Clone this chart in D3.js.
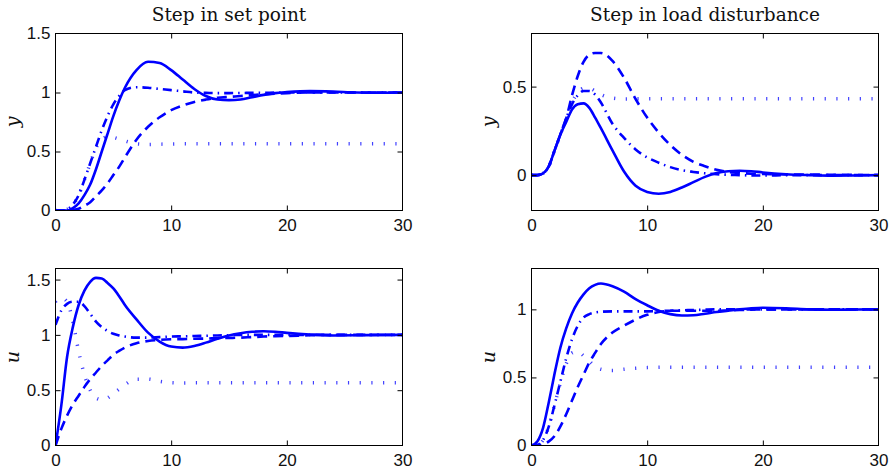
<!DOCTYPE html>
<html>
<head>
<meta charset="utf-8">
<script src="https://cdn.jsdelivr.net/npm/d3@7"></script>
<style>
	html, body { margin: 0; padding: 0; background: #fff; }
	svg { display: block; }
	.tick text { font-family: "Liberation Sans", Arial, sans-serif; font-size: 17px; fill: #111; }
	.tick line { stroke: #000; }
	.frame { fill: none; stroke: #000; stroke-width: 1; }
	.title { font-family: "DejaVu Serif", serif; font-size: 18.5px; fill: #111; }
	.ylabel { font-family: "DejaVu Serif", serif; font-style: italic; font-size: 19px; fill: #111; }
	.curve { fill: none; stroke: #0000ff; stroke-width: 2.6; }
	.curve.dashed { stroke-dasharray: 10 6; }
	.curve.dashdot { stroke-dasharray: 9 5 1.5 5; }
	.curve.dotted { stroke-width: 3.5; stroke-dasharray: 1.2 10.5; opacity: 0.75; }
</style>
</head>
<body>
<svg id="chart" width="893" height="475"></svg>
<script>
// time grid shared by all series
var times = [0, 0.5, 1, 1.5, 2, 2.5, 3, 3.5, 4, 4.5, 5, 5.5, 6, 7, 8, 9, 10, 11, 12, 13, 14, 15, 16, 17, 18, 19, 20, 22, 24, 26, 28, 30];

// step in set point, output y
var spYSolid   = [0, 0, 0, 0.02, 0.06, 0.13, 0.22, 0.35, 0.5, 0.65, 0.8, 0.93, 1.04, 1.19, 1.26, 1.25, 1.19, 1.11, 1.03, 0.97, 0.94, 0.935, 0.94, 0.96, 0.98, 0.995, 1.003, 1.012, 1.008, 1.0, 0.998, 1.0];
var spYDashed  = [0, 0, 0, 0.005, 0.015, 0.04, 0.07, 0.12, 0.17, 0.23, 0.3, 0.37, 0.45, 0.6, 0.71, 0.79, 0.85, 0.89, 0.92, 0.94, 0.955, 0.963, 0.97, 0.978, 0.985, 0.99, 0.995, 1.0, 1.0, 1.0, 1.0, 1.0];
var spYDashdot = [0, 0, 0.01, 0.05, 0.13, 0.26, 0.4, 0.54, 0.68, 0.8, 0.9, 0.97, 1.02, 1.045, 1.04, 1.03, 1.02, 1.01, 1.0, 0.997, 0.995, 0.995, 0.996, 0.997, 0.998, 0.999, 1.0, 1.0, 1.0, 1.0, 1.0, 1.0];
var spYDotted  = [0, 0, 0.01, 0.05, 0.13, 0.26, 0.4, 0.53, 0.6, 0.625, 0.62, 0.605, 0.59, 0.565, 0.56, 0.562, 0.564, 0.565, 0.565, 0.565, 0.565, 0.565, 0.565, 0.565, 0.565, 0.565, 0.565, 0.565, 0.565, 0.565, 0.565, 0.565];

// step in load disturbance, output y
var ldYSolid   = [0, 0, 0.01, 0.05, 0.14, 0.23, 0.3, 0.37, 0.4, 0.405, 0.38, 0.325, 0.265, 0.14, 0.02, -0.06, -0.095, -0.105, -0.095, -0.07, -0.04, -0.01, 0.012, 0.022, 0.025, 0.022, 0.015, 0.005, 0, -0.003, -0.002, 0];
var ldYDashed  = [0, 0, 0.01, 0.05, 0.14, 0.23, 0.32, 0.45, 0.56, 0.64, 0.68, 0.69, 0.69, 0.645, 0.55, 0.43, 0.325, 0.24, 0.17, 0.115, 0.075, 0.05, 0.03, 0.018, 0.012, 0.008, 0.006, 0.004, 0.003, 0.002, 0.001, 0];
var ldYDashdot = [0, 0, 0.01, 0.05, 0.14, 0.23, 0.32, 0.4, 0.45, 0.475, 0.475, 0.455, 0.41, 0.29, 0.21, 0.145, 0.1, 0.07, 0.045, 0.028, 0.018, 0.01, 0.005, 0.002, 0, -0.002, -0.002, -0.001, 0, 0, 0, 0];
var ldYDotted  = [0, 0, 0.01, 0.05, 0.14, 0.23, 0.32, 0.41, 0.465, 0.49, 0.49, 0.475, 0.455, 0.435, 0.43, 0.431, 0.432, 0.432, 0.432, 0.432, 0.432, 0.432, 0.432, 0.432, 0.432, 0.432, 0.432, 0.432, 0.432, 0.432, 0.432, 0.432];

// step in set point, control u
var spUSolid   = [0, 0.36, 0.8, 1.07, 1.27, 1.4, 1.48, 1.515, 1.51, 1.47, 1.42, 1.35, 1.27, 1.14, 1.02, 0.94, 0.895, 0.885, 0.9, 0.93, 0.965, 0.995, 1.015, 1.028, 1.033, 1.028, 1.018, 1.003, 0.995, 0.996, 0.999, 1.0];
var spUDashed  = [0, 0.15, 0.27, 0.37, 0.45, 0.53, 0.6, 0.66, 0.72, 0.77, 0.82, 0.855, 0.885, 0.925, 0.945, 0.955, 0.96, 0.962, 0.965, 0.967, 0.97, 0.972, 0.975, 0.98, 0.985, 0.988, 0.99, 0.997, 1.0, 1.0, 1.0, 1.0];
var spUDashdot = [1.09, 1.22, 1.28, 1.3, 1.3, 1.26, 1.19, 1.12, 1.07, 1.035, 1.01, 0.995, 0.985, 0.975, 0.975, 0.98, 0.985, 0.987, 0.99, 0.992, 0.995, 0.997, 1.0, 1.0, 1.0, 1.0, 1.0, 1.0, 1.0, 1.0, 1.0, 1.0];
var spUDotted  = [1.3, 1.335, 1.3, 1.12, 0.85, 0.64, 0.5, 0.43, 0.415, 0.43, 0.47, 0.51, 0.55, 0.6, 0.6, 0.58, 0.568, 0.565, 0.567, 0.567, 0.567, 0.567, 0.567, 0.567, 0.567, 0.567, 0.567, 0.567, 0.567, 0.567, 0.567, 0.567];

// step in load disturbance, control u
var ldUSolid   = [0, 0.03, 0.13, 0.32, 0.53, 0.72, 0.86, 0.97, 1.05, 1.11, 1.155, 1.18, 1.19, 1.17, 1.13, 1.075, 1.03, 0.99, 0.965, 0.955, 0.957, 0.968, 0.98, 0.99, 1.0, 1.008, 1.012, 1.008, 1.0, 0.997, 0.999, 1.0];
var ldUDashed  = [0, 0, 0.01, 0.03, 0.07, 0.14, 0.23, 0.33, 0.43, 0.52, 0.61, 0.68, 0.745, 0.83, 0.88, 0.925, 0.96, 0.98, 0.99, 0.99, 0.99, 0.99, 0.99, 0.992, 0.995, 0.998, 1.0, 1.0, 1.0, 1.0, 1.0, 1.0];
var ldUDashdot = [0, 0.005, 0.04, 0.14, 0.3, 0.47, 0.64, 0.78, 0.88, 0.94, 0.965, 0.977, 0.982, 0.985, 0.985, 0.985, 0.985, 0.987, 0.99, 0.993, 0.995, 0.998, 1.0, 1.0, 1.0, 1.0, 1.0, 1.0, 1.0, 1.0, 1.0, 1.0];
var ldUDotted  = [0, 0.005, 0.04, 0.14, 0.3, 0.46, 0.6, 0.68, 0.69, 0.66, 0.62, 0.58, 0.56, 0.55, 0.56, 0.567, 0.572, 0.574, 0.575, 0.575, 0.575, 0.575, 0.575, 0.575, 0.575, 0.575, 0.575, 0.575, 0.575, 0.575, 0.575, 0.575];

// tick values
var xTicks = [0, 10, 20, 30];
var spYTicks = [0, 0.5, 1, 1.5];
var ldYTicks = [0, 0.5];
var spUTicks = [0, 0.5, 1, 1.5];
var ldUTicks = [0, 0.5, 1];

window.app = window.app || {};

window.app.panels = (function() {

	'use strict';

	var svg = d3.select("#chart");

	var panelWidth = 347,
		panelHeight = 177;

	/**
	* draw one subplot
	* @param {object} cfg position, domain, ticks, labels and series
	* @returns {undefined}
	*/
	var drawPanel = function(cfg, idx) {
		var g = svg.append("g").attr("transform", "translate(" + cfg.left + "," + cfg.top + ")");

		var xScale = d3.scaleLinear().domain([0, 30]).range([0, panelWidth]);
		var yScale = d3.scaleLinear().domain(cfg.yDomain).range([panelHeight, 0]);

		// clip for the curves
		g.append("clipPath").attr("id", "clip" + idx)
			.append("rect").attr("width", panelWidth).attr("height", panelHeight);

		var line = d3.line()
			.curve(d3.curveMonotoneX)
			.x(function(d, i) { return xScale(times[i]); })
			.y(function(d) { return yScale(d); });

		var styles = ["dotted", "dashdot", "dashed", "solid"];
		styles.forEach(function(s) {
			g.append("path")
				.datum(cfg.series[s])
				.attr("class", "curve " + s)
				.attr("clip-path", "url(#clip" + idx + ")")
				.attr("d", line);
		});

		// axes with inward ticks on all four sides
		var bottom = g.append("g").attr("transform", "translate(0," + panelHeight + ")")
			.call(d3.axisBottom(xScale).tickValues(xTicks).tickSize(-5).tickSizeOuter(0).tickPadding(8).tickFormat(d3.format("d")));
		var top = g.append("g")
			.call(d3.axisTop(xScale).tickValues(xTicks.slice(1, -1)).tickSize(-5).tickSizeOuter(0).tickFormat(""));
		var left = g.append("g")
			.call(d3.axisLeft(yScale).tickValues(cfg.yTicks).tickSize(-5).tickSizeOuter(0).tickPadding(5).tickFormat(function(d) { return d3.format("")(d); }));
		var right = g.append("g").attr("transform", "translate(" + panelWidth + ",0)")
			.call(d3.axisRight(yScale).tickValues(cfg.yTicks).tickSize(-5).tickSizeOuter(0).tickFormat(""));

		[bottom, top, left, right].forEach(function(a) {
			a.select(".domain").remove();
			a.attr("font-family", null).attr("font-size", null);
		});
		// hide ticks that would sit on the frame
		left.selectAll(".tick").filter(function(d) { return d === cfg.yDomain[0] || d === cfg.yDomain[1]; }).select("line").remove();
		right.selectAll(".tick").filter(function(d) { return d === cfg.yDomain[0] || d === cfg.yDomain[1]; }).select("line").remove();
		bottom.selectAll(".tick").filter(function(d) { return d === 0 || d === 30; }).select("line").remove();

		g.append("rect").attr("class", "frame")
			.attr("width", panelWidth).attr("height", panelHeight);

		// y label
		g.append("text").attr("class", "ylabel")
			.attr("transform", "translate(" + cfg.yLabelX + "," + (panelHeight / 2) + ") rotate(-90)")
			.attr("text-anchor", "middle")
			.text(cfg.yLabel);

		if (cfg.title) {
			g.append("text").attr("class", "title")
				.attr("x", panelWidth / 2).attr("y", -13)
				.attr("text-anchor", "middle")
				.text(cfg.title);
		}
	};

	var init = function() {
		var panels = [
			{left: 55.5, top: 33.5, yDomain: [0, 1.5], yTicks: spYTicks, yLabel: "y", yLabelX: -37, title: "Step in set point",
				series: {solid: spYSolid, dashed: spYDashed, dashdot: spYDashdot, dotted: spYDotted}},
			{left: 531.5, top: 33.5, yDomain: [-0.2, 0.8], yTicks: ldYTicks, yLabel: "y", yLabelX: -37, title: "Step in load disturbance",
				series: {solid: ldYSolid, dashed: ldYDashed, dashdot: ldYDashdot, dotted: ldYDotted}},
			{left: 55.5, top: 268.5, yDomain: [0, 1.6], yTicks: spUTicks, yLabel: "u", yLabelX: -37,
				series: {solid: spUSolid, dashed: spUDashed, dashdot: spUDashdot, dotted: spUDotted}},
			{left: 531.5, top: 268.5, yDomain: [0, 1.3], yTicks: ldUTicks, yLabel: "u", yLabelX: -37,
				series: {solid: ldUSolid, dashed: ldUDashed, dashdot: ldUDashdot, dotted: ldUDotted}}
		];
		panels.forEach(drawPanel);
	};

	return {
		init: init
	};

})();

window.app.panels.init();
</script>
</body>
</html>
